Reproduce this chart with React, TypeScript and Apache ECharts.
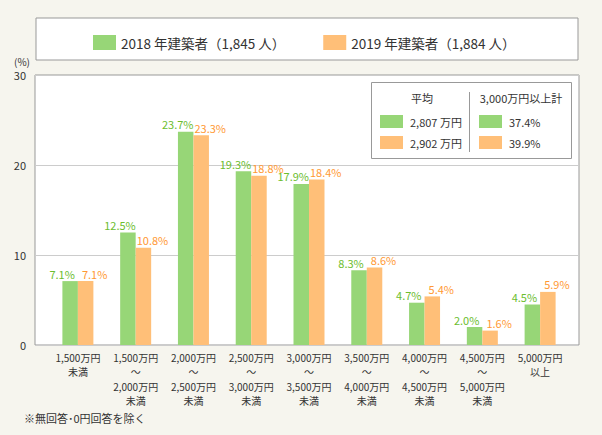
import React, { useEffect, useRef } from "react";
import * as echarts from "echarts";

const categories = [
  "1,500万円\n未満",
  "1,500万円\n～\n2,000万円\n未満",
  "2,000万円\n～\n2,500万円\n未満",
  "2,500万円\n～\n3,000万円\n未満",
  "3,000万円\n～\n3,500万円\n未満",
  "3,500万円\n～\n4,000万円\n未満",
  "4,000万円\n～\n4,500万円\n未満",
  "4,500万円\n～\n5,000万円\n未満",
  "5,000万円\n以上",
];
const series2018 = [7.1, 12.5, 23.7, 19.3, 17.9, 8.3, 4.7, 2.0, 4.5];
const series2019 = [7.1, 10.8, 23.3, 18.8, 18.4, 8.6, 5.4, 1.6, 5.9];
const seriesNames = ["2018 年建築者（1,845 人）", "2019 年建築者（1,884 人）"];
const yTicks = { min: 0, max: 30, interval: 10 };
const tableHeaders = ["平均", "3,000万円以上計"];
const avgValues = ["2,807 万円", "2,902 万円"];
const over3000 = ["37.4%", "39.9%"];
const footnote = "※無回答･0円回答を除く";
const unitLabel = "(%)";

const GREEN = "#97d677";
const ORANGE = "#ffbf78";
const GREEN_TEXT = "#6cbd2e";
const ORANGE_TEXT = "#ff9933";
const FONT = "'Noto Sans CJK JP', 'Noto Sans', sans-serif";

export default function App() {
  const ref = useRef<HTMLDivElement>(null);
  useEffect(() => {
    if (!ref.current) return;
    const chart = echarts.init(ref.current, undefined, { renderer: "svg" });
    const fmt = (p: any) => Number(p.value).toFixed(1) + "%";
    chart.setOption({
      animation: false,
      backgroundColor: "#f6f5ee",
      textStyle: { fontFamily: FONT },
      legend: {
        data: seriesNames,
        left: 88,
        top: 30,
        itemWidth: 23,
        itemHeight: 15,
        itemGap: 38,
        icon: "rect",
        textStyle: { fontSize: 13.5, color: "#333", fontFamily: FONT },
      },
      grid: [
        { left: 35, right: 23, top: 75, bottom: 90, show: true, backgroundColor: "#fff", borderColor: "#999", borderWidth: 1 },
        { left: 49, right: 33, top: 75, bottom: 90 },
      ],
      xAxis: [
        { type: "value", gridIndex: 0, min: 0, max: 1, show: false },
        {
          type: "category",
          gridIndex: 1,
          data: categories,
          axisLine: { show: false },
          axisTick: { show: false },
          axisLabel: { fontSize: 10, color: "#333", lineHeight: 14.5, margin: 5, fontFamily: FONT, interval: 0 },
        },
      ],
      yAxis: [
        {
          type: "value",
          gridIndex: 0,
          min: yTicks.min,
          max: yTicks.max,
          interval: yTicks.interval,
          axisLine: { show: false },
          axisTick: { show: false },
          axisLabel: { fontSize: 11, color: "#333", margin: 9, fontFamily: FONT },
          splitLine: { lineStyle: { color: "#ccc", width: 1 } },
        },
        { type: "value", gridIndex: 1, min: yTicks.min, max: yTicks.max, interval: yTicks.interval, show: false, splitLine: { show: false } },
      ],
      series: [
        {
          name: seriesNames[0],
          type: "bar",
          xAxisIndex: 1,
          yAxisIndex: 1,
          data: series2018,
          barWidth: 15.5,
          barGap: "0%",
          itemStyle: { color: GREEN },
          label: { show: true, position: "top", distance: 2, offset: [-8, 0], formatter: fmt, color: GREEN_TEXT, fontSize: 11, fontFamily: FONT },
        },
        {
          name: seriesNames[1],
          type: "bar",
          xAxisIndex: 1,
          yAxisIndex: 1,
          data: series2019,
          barWidth: 15.5,
          barGap: "0%",
          itemStyle: { color: ORANGE },
          label: { show: true, position: "top", distance: 2, offset: [9, 0], formatter: fmt, color: ORANGE_TEXT, fontSize: 11, fontFamily: FONT },
        },
      ],
      graphic: [
        { type: "rect", z: -1, shape: { x: 36, y: 18, width: 542, height: 42 }, style: { fill: "#fff", stroke: "#999", lineWidth: 1 } },
        { type: "text", x: 30, y: 61, style: { text: unitLabel, fontSize: 10, fill: "#333", align: "right", verticalAlign: "middle", fontFamily: FONT } },
        { type: "text", x: 24, y: 418, style: { text: footnote, fontSize: 11, fill: "#333", align: "left", verticalAlign: "middle", fontFamily: FONT } },
        { type: "rect", z: 10, shape: { x: 371.5, y: 82.5, width: 200, height: 76 }, style: { fill: "#fff", stroke: "#999", lineWidth: 1 } },
        { type: "line", z: 11, shape: { x1: 469.5, y1: 92, x2: 469.5, y2: 152 }, style: { stroke: "#999", lineWidth: 1 } },
        { type: "text", z: 11, x: 422, y: 98, style: { text: tableHeaders[0], fontSize: 11, fill: "#333", align: "center", verticalAlign: "middle", fontFamily: FONT } },
        { type: "text", z: 11, x: 521, y: 98, style: { text: tableHeaders[1], fontSize: 11, fill: "#333", align: "center", verticalAlign: "middle", fontFamily: FONT } },
        { type: "rect", z: 11, shape: { x: 380, y: 115, width: 23, height: 13 }, style: { fill: GREEN } },
        { type: "rect", z: 11, shape: { x: 380, y: 136, width: 23, height: 13 }, style: { fill: ORANGE } },
        { type: "rect", z: 11, shape: { x: 479, y: 115, width: 23, height: 13 }, style: { fill: GREEN } },
        { type: "rect", z: 11, shape: { x: 479, y: 136, width: 23, height: 13 }, style: { fill: ORANGE } },
        { type: "text", z: 11, x: 410, y: 121.5, style: { text: avgValues[0], fontSize: 11, fill: "#333", align: "left", verticalAlign: "middle", fontFamily: FONT } },
        { type: "text", z: 11, x: 410, y: 142.5, style: { text: avgValues[1], fontSize: 11, fill: "#333", align: "left", verticalAlign: "middle", fontFamily: FONT } },
        { type: "text", z: 11, x: 509, y: 121.5, style: { text: over3000[0], fontSize: 11, fill: "#333", align: "left", verticalAlign: "middle", fontFamily: FONT } },
        { type: "text", z: 11, x: 509, y: 142.5, style: { text: over3000[1], fontSize: 11, fill: "#333", align: "left", verticalAlign: "middle", fontFamily: FONT } },
      ],
    });
    return () => chart.dispose();
  }, []);
  return <div ref={ref} style={{ position: "fixed", left: 0, top: 0, width: 602, height: 435 }} />;
}
